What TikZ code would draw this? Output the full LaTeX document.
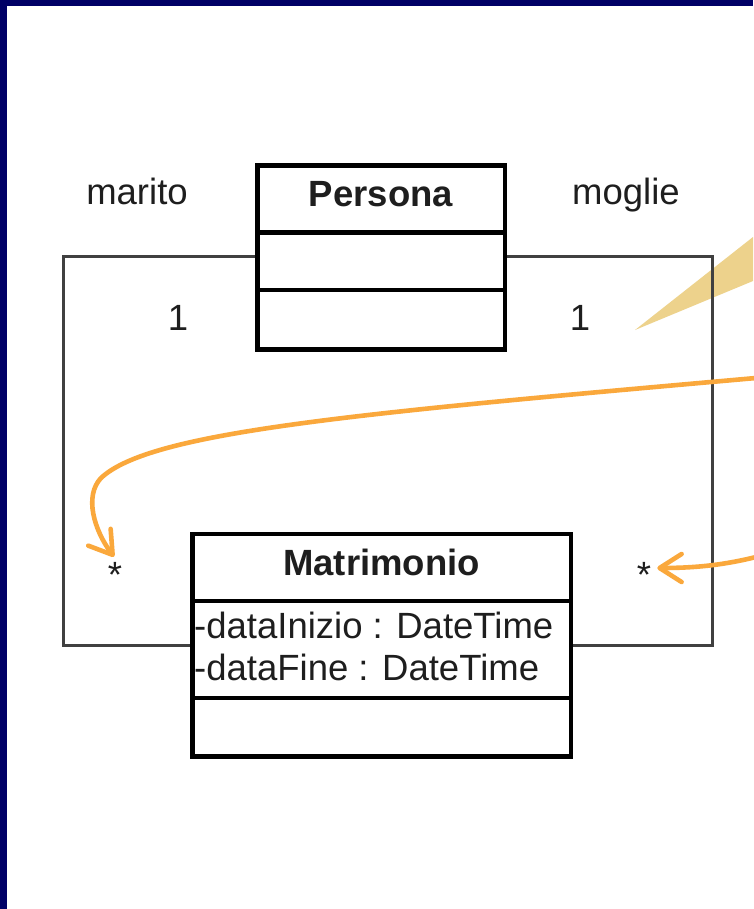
\documentclass[tikz,border=0pt]{standalone}
\usepackage{fontspec}
\setmainfont{Liberation Sans}
\usetikzlibrary{arrows.meta}
\definecolor{navy}{RGB}{0,0,102}
\definecolor{calloutc}{RGB}{237,210,140}
\definecolor{orng}{RGB}{250,168,60}
\definecolor{ink}{RGB}{30,30,30}
\begin{document}
\begin{tikzpicture}[x=1pt,y=-1pt,
  every node/.style={font=\fontsize{36.5}{42}\selectfont, text=ink},
  compart/.style={draw=black, line width=3pt, fill=white, inner sep=0pt, anchor=north},
  assoc/.style={draw=black!75, line width=3pt},
  lbl/.style={anchor=base, inner sep=0pt},
  pointer/.style={draw=orng, line width=4.6pt, line cap=round,
    -{Straight Barb[length=22pt,width=28pt,round]}}]
\useasboundingbox (0,0) rectangle (753,909);
\fill[white] (0,0) rectangle (753,909);
\fill[navy] (0,0) rectangle (6.5,909);
\fill[navy] (0,0) rectangle (753,6.5);

% callout wedge
\fill[calloutc] (635,330) -- (753,237) -- (753,281) -- cycle;

% association path coordinates
\coordinate (tl) at (63,256);
\coordinate (bl) at (63,645);
\coordinate (tr) at (712,256);
\coordinate (br) at (712,645);

% Persona class
\node[compart, minimum width=246pt, minimum height=67pt] (pN) at (381,165) {};
\node[compart, minimum width=246pt, minimum height=57pt] (pA) at (381,232) {};
\node[compart, minimum width=246pt, minimum height=58pt] (pO) at (381,289) {};

% Matrimonio class
\node[compart, minimum width=377pt, minimum height=67pt] (mN) at (381.5,533) {};
\node[compart, minimum width=377pt, minimum height=97pt] (mA) at (381.5,600) {};
\node[compart, minimum width=377pt, minimum height=57pt] (mO) at (381.5,697) {};

% association lines
\draw[assoc] (pA.west |- tl) -- (tl) -- (bl) -- (mA.west |- bl);
\draw[assoc] (pA.east |- tr) -- (tr) -- (br) -- (mA.east |- br);

% redraw box outlines on top of line ends
\draw[black, line width=3pt] (pN.north west) rectangle (pO.south east);
\draw[black, line width=3pt] (pA.north west) -- (pA.north east);
\draw[black, line width=3pt] (pO.north west) -- (pO.north east);
\draw[black, line width=3pt] (mN.north west) rectangle (mO.south east);
\draw[black, line width=3pt] (mA.north west) -- (mA.north east);
\draw[black, line width=3pt] (mO.north west) -- (mO.north east);

% class texts
\node[lbl] (pT) at (381,207) {\bfseries Persona};
\node[lbl] (mT) at (381.5,575) {\bfseries Matrimonio};
\node[lbl, anchor=base west] (a1) at (194,638) {-dataInizio : DateTime};
\node[lbl, anchor=base west] (a2) at (194,680) {-dataFine : DateTime};

% role names and multiplicities
\node[lbl] (rm) at (137,205) {marito};
\node[lbl] (rw) at (626,205) {moglie};
\node[lbl] (m1l) at (178,330) {1};
\node[lbl] (m1r) at (580,330) {1};
\node[lbl] (sl) at (115,587) {*};
\node[lbl] (sr) at (644,587) {*};

% orange pointers
\coordinate (o1) at (756,378);
\coordinate (o2) at (756,557);
\draw[pointer] (o1) .. controls (350,414) and (150,432) .. (101,478)
  .. controls (84,496) and (94,530) .. ([xshift=-1pt,yshift=5pt]sl.north);
\draw[pointer] (o2) .. controls (720,566) and (690,568) .. ([xshift=6pt]sr.east |- 0,568);
\end{tikzpicture}
\end{document}
